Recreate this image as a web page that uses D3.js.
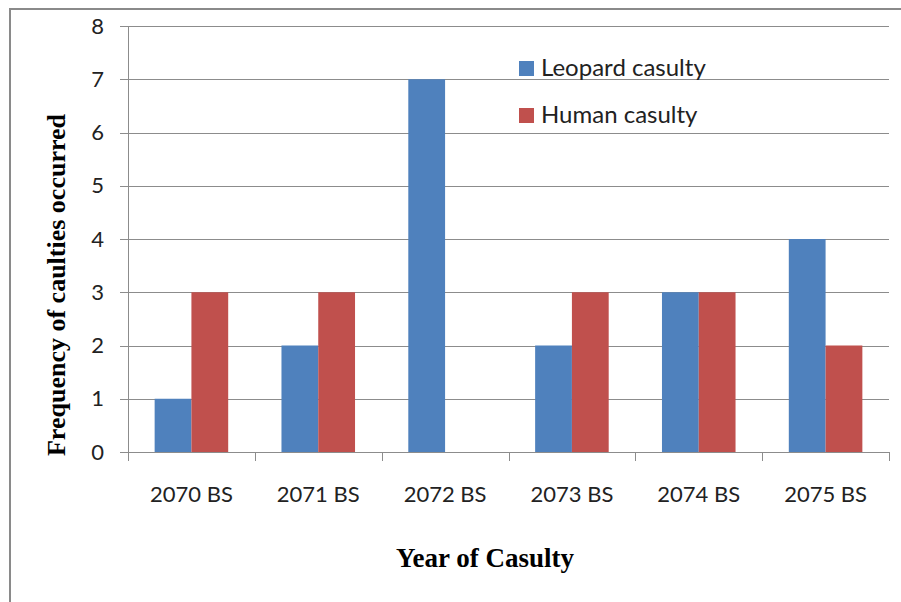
<!DOCTYPE html>
<html>
<head>
<meta charset="utf-8">
<script src="https://d3js.org/d3.v7.min.js"></script>
<style>
  body { margin: 0; background: #fff; }
  text { font-family: Lato, "Open Sans", sans-serif; fill: #222; }
  .title { font-family: "Liberation Serif", "DejaVu Serif", serif; font-weight: bold; fill: #000; }
</style>
</head>
<body>
<div id="chart"></div>
<script>
// --- Data ---
const years = ["2070 BS", "2071 BS", "2072 BS", "2073 BS", "2074 BS", "2075 BS"];
const leopard = [1, 2, 7, 2, 3, 4];
const human = [3, 3, 0, 3, 3, 2];
const seriesNames = ["Leopard casulty", "Human casulty"];
const colors = ["#4F81BD", "#C0504D"];
const yTicks = [0, 1, 2, 3, 4, 5, 6, 7, 8];

const width = 901, height = 602;
const margin = { left: 128, right: 12, top: 26, bottom: 150 };

const svg = d3.select("#chart").append("svg")
    .attr("width", width)
    .attr("height", height);

// outer frame (only left and top edges are visible in the picture)
svg.append("rect")
    .attr("x", 10).attr("y", 9)
    .attr("width", 1000).attr("height", 1000)
    .attr("fill", "none")
    .attr("stroke", "#8a8a8a")
    .attr("stroke-width", 2);

const x0 = d3.scaleBand()
    .domain(years)
    .range([margin.left, width - margin.right])
    .paddingInner(0.42)
    .paddingOuter(0.21);

const x1 = d3.scaleBand()
    .domain(seriesNames)
    .range([0, x0.bandwidth()]);

const y = d3.scaleLinear()
    .domain([0, 8])
    .range([height - margin.bottom, margin.top]);

// --- Gridlines ---
svg.append("g")
    .selectAll("line")
    .data(yTicks)
    .join("line")
    .attr("x1", margin.left - 8)
    .attr("x2", width - margin.right)
    .attr("y1", d => Math.round(y(d)) + 0.5)
    .attr("y2", d => Math.round(y(d)) + 0.5)
    .attr("stroke", "#8c8c8c")
    .attr("stroke-width", 1);

// --- Bars ---
const rows = years.map((yr, i) => ({ yr, vals: [leopard[i], human[i]] }));
const groups = svg.append("g")
    .selectAll("g")
    .data(rows)
    .join("g")
    .attr("transform", d => `translate(${x0(d.yr)},0)`);

groups.selectAll("rect")
    .data(d => d.vals.map((v, k) => ({ v, k })))
    .join("rect")
    .attr("x", d => x1(seriesNames[d.k]))
    .attr("width", x1.bandwidth())
    .attr("y", d => y(d.v))
    .attr("height", d => y(0) - y(d.v))
    .attr("fill", d => colors[d.k]);

// --- Y axis ---
svg.append("line")
    .attr("x1", margin.left + 0.5).attr("x2", margin.left + 0.5)
    .attr("y1", y(8)).attr("y2", y(0))
    .attr("stroke", "#8c8c8c");

svg.append("g")
    .selectAll("text")
    .data(yTicks)
    .join("text")
    .attr("x", margin.left - 24)
    .attr("y", d => y(d))
    .attr("dy", "0.35em")
    .attr("text-anchor", "end")
    .style("font-size", "22px")
    .text(d => d);

// --- X axis ---
const xStep = (width - margin.right - margin.left) / years.length;
svg.append("line")
    .attr("x1", margin.left).attr("x2", width - margin.right)
    .attr("y1", Math.round(y(0)) + 0.5).attr("y2", Math.round(y(0)) + 0.5)
    .attr("stroke", "#8c8c8c");

svg.append("g")
    .selectAll("line")
    .data(d3.range(years.length + 1))
    .join("line")
    .attr("x1", i => Math.round(margin.left + i * xStep) + 0.5)
    .attr("x2", i => Math.round(margin.left + i * xStep) + 0.5)
    .attr("y1", y(0))
    .attr("y2", y(0) + 9)
    .attr("stroke", "#8c8c8c");

svg.append("g")
    .selectAll("text")
    .data(years)
    .join("text")
    .attr("x", d => x0(d) + x0.bandwidth() / 2)
    .attr("y", y(0) + 50)
    .attr("text-anchor", "middle")
    .style("font-size", "22px")
    .text(d => d);

// --- Axis titles ---
svg.append("text")
    .attr("class", "title")
    .attr("x", 485)
    .attr("y", 567)
    .attr("text-anchor", "middle")
    .style("font-size", "27px")
    .text("Year of Casulty");

svg.append("text")
    .attr("class", "title")
    .attr("transform", "translate(65,285) rotate(-90)")
    .attr("text-anchor", "middle")
    .style("font-size", "26px")
    .text("Frequency of caulties occurred");

// --- Legend ---
const legend = svg.append("g")
    .selectAll("g")
    .data(seriesNames)
    .join("g")
    .attr("transform", (d, i) => `translate(519,${61 + i * 47})`);

legend.append("rect")
    .attr("width", 15).attr("height", 15)
    .attr("fill", (d, i) => colors[i]);

legend.append("text")
    .attr("x", 22)
    .attr("y", 7)
    .attr("dy", "0.35em")
    .style("font-size", "24px")
    .text(d => d);
</script>
</body>
</html>
